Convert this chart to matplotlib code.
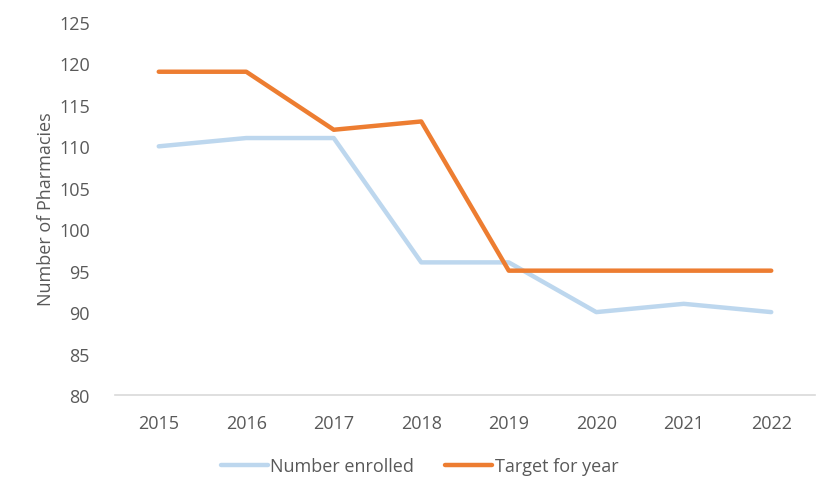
import matplotlib.pyplot as plt

years = ["2015", "2016", "2017", "2018", "2019", "2020", "2021", "2022"]
enrolled = [110, 111, 111, 96, 96, 90, 91, 90]
target = [119, 119, 112, 113, 95, 95, 95, 95]

plt.rcParams["font.family"] = ["Open Sans", "DejaVu Sans"]
TEXT = "#595959"

fig = plt.figure(figsize=(8.39, 5.02), dpi=100)
ax = fig.add_axes([115 / 839, 1 - 396 / 502, 700 / 839, 373 / 502])

x = range(len(years))
ax.plot(x, enrolled, color="#BDD7EE", linewidth=3.2, label="Number enrolled",
        solid_capstyle="round", solid_joinstyle="round")
ax.plot(x, target, color="#ED7D31", linewidth=3.2, label="Target for year",
        solid_capstyle="round", solid_joinstyle="round")

ax.set_xlim(-0.5, len(years) - 0.5)
ax.set_ylim(80, 125)
ax.set_xticks(list(x))
ax.set_xticklabels(years)
ax.set_yticks(range(80, 126, 5))

for side in ["top", "right", "left"]:
    ax.spines[side].set_visible(False)
ax.spines["bottom"].set_color("#D9D9D9")
ax.spines["bottom"].set_linewidth(1.2)
ax.tick_params(axis="both", length=0, labelsize=13, colors=TEXT, pad=14)
ax.tick_params(axis="y", pad=18)

ax.set_ylabel("Number of Pharmacies", fontsize=13, color=TEXT, labelpad=3)

fig.legend(loc="center", bbox_to_anchor=(0.5, 1 - 467 / 502), ncol=2,
           frameon=False, fontsize=13, labelcolor=TEXT, handlelength=2.6,
           handletextpad=0.15, columnspacing=1.7)

fig.savefig("out.png", dpi=100, facecolor="white")
